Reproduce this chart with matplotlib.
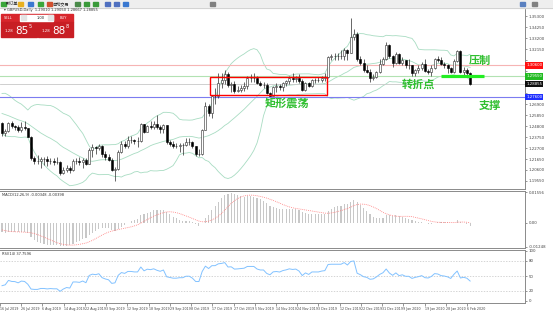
import numpy as np
import pandas as pd
import matplotlib
matplotlib.use("Agg")
import matplotlib.pyplot as plt
from matplotlib.patches import Rectangle

CJK = ['Noto Sans CJK SC', 'DejaVu Sans']

# GBPUSD daily bars, 16 Jul 2019 .. 6 Feb 2020
warmup_closes = [1.2710, 1.2660, 1.2620, 1.2610, 1.2620, 1.2630, 1.2690, 1.2700, 1.2710, 1.2740,
                 1.2660, 1.2710, 1.2690, 1.2680, 1.2590, 1.2540, 1.2560, 1.2650, 1.2720, 1.2740,
                 1.2740, 1.2700, 1.2660, 1.2690, 1.2700, 1.2620, 1.2620, 1.2590, 1.2580, 1.2520,
                 1.2510, 1.2450, 1.2510, 1.2520, 1.2570, 1.2510]

closes = [
    # Jul
    1.2415, 1.2430, 1.2510, 1.2480, 1.2475, 1.2440, 1.2470, 1.2460, 1.2380, 1.2170, 1.2150, 1.2150,
    # Aug
    1.2165, 1.2165, 1.2145, 1.2150, 1.2140, 1.2140, 1.2030, 1.2060, 1.2080, 1.2060, 1.2150,
    1.2150, 1.2140, 1.2160, 1.2120, 1.2250, 1.2280, 1.2270, 1.2290, 1.2210, 1.2180, 1.2160,
    # Sep
    1.2060, 1.2070, 1.2230, 1.2310, 1.2290, 1.2350, 1.2350, 1.2340, 1.2340, 1.2500, 1.2420,
    1.2480, 1.2470, 1.2500, 1.2470, 1.2450, 1.2490, 1.2330, 1.2310, 1.2290, 1.2290,
    # Oct
    1.2300, 1.2300, 1.2330, 1.2330, 1.2290, 1.2210, 1.2210, 1.2440, 1.2670, 1.2610, 1.2770, 1.2770,
    1.2890, 1.2920, 1.2980, 1.2870, 1.2880, 1.2820, 1.2830, 1.2845, 1.2860, 1.2940, 1.2940,
    # Nov
    1.2940, 1.2890, 1.2870, 1.2870, 1.2800, 1.2770, 1.2850, 1.2860, 1.2850, 1.2890, 1.2910,
    1.2940, 1.2930, 1.2940, 1.2910, 1.2830, 1.2890, 1.2860, 1.2920, 1.2920, 1.2920,
    # Dec
    1.2940, 1.2950, 1.3140, 1.3150, 1.3150, 1.3150, 1.3150, 1.3210, 1.3180, 1.3330, 1.3360,
    1.3120, 1.3080, 1.3020, 1.3000, 1.2940, 1.2950, 1.3000, 1.3070, 1.3120, 1.3260,
    # Jan
    1.3150, 1.3080, 1.3170, 1.3080, 1.3110, 1.3060, 1.3060, 1.2990, 1.3020, 1.3040, 1.3070,
    1.3010, 1.3000, 1.3040, 1.3120, 1.3110, 1.3070, 1.3060, 1.3040, 1.3000, 1.3100, 1.3200,
    # Feb
    1.3000, 1.3020, 1.2990, 1.2886,
]

highs = [
    1.2515, 1.2450, 1.2522, 1.2530, 1.2490, 1.2490, 1.2520, 1.2530, 1.2465, 1.2385, 1.2190, 1.2200,
    1.2185, 1.2180, 1.2190, 1.2170, 1.2170, 1.2180, 1.2150, 1.2090, 1.2110, 1.2100, 1.2165,
    1.2170, 1.2180, 1.2175, 1.2175, 1.2275, 1.2310, 1.2290, 1.2305, 1.2300, 1.2240, 1.2210,
    1.2175, 1.2085, 1.2250, 1.2340, 1.2340, 1.2385, 1.2385, 1.2360, 1.2380, 1.2510, 1.2500,
    1.2490, 1.2525, 1.2530, 1.2582, 1.2490, 1.2500, 1.2490, 1.2345, 1.2340, 1.2320,
    1.2320, 1.2320, 1.2365, 1.2370, 1.2340, 1.2290, 1.2260, 1.2450, 1.2710, 1.2690, 1.2775, 1.2840,
    1.2990, 1.2990, 1.3013, 1.3000, 1.2905, 1.2910, 1.2860, 1.2875, 1.2905, 1.2955, 1.2975,
    1.2985, 1.2960, 1.2915, 1.2905, 1.2890, 1.2810, 1.2860, 1.2890, 1.2880, 1.2905, 1.2920,
    1.2960, 1.2990, 1.2955, 1.2975, 1.2930, 1.2900, 1.2905, 1.2935, 1.2940, 1.2945,
    1.2960, 1.2985, 1.3150, 1.3170, 1.3180, 1.3180, 1.3210, 1.3230, 1.3220, 1.3514, 1.3410,
    1.3380, 1.3150, 1.3120, 1.3060, 1.3030, 1.2980, 1.3010, 1.3120, 1.3140, 1.3285,
    1.3270, 1.3160, 1.3185, 1.3180, 1.3140, 1.3110, 1.3120, 1.3065, 1.3030, 1.3060, 1.3090,
    1.3120, 1.3030, 1.3060, 1.3130, 1.3150, 1.3140, 1.3090, 1.3070, 1.3050, 1.3120, 1.3210,
    1.3210, 1.3050, 1.3040, 1.3000,
]

lows = [
    1.2382, 1.2382, 1.2420, 1.2465, 1.2440, 1.2420, 1.2425, 1.2440, 1.2375, 1.2160, 1.2120, 1.2120,
    1.2080, 1.2110, 1.2100, 1.2120, 1.2110, 1.2120, 1.2015, 1.2020, 1.2040, 1.2035, 1.2050,
    1.2120, 1.2110, 1.2080, 1.2105, 1.2120, 1.2180, 1.2210, 1.2255, 1.2180, 1.2160, 1.2145,
    1.2050, 1.1959, 1.2060, 1.2220, 1.2270, 1.2270, 1.2320, 1.2310, 1.2280, 1.2330, 1.2410,
    1.2420, 1.2450, 1.2450, 1.2455, 1.2410, 1.2410, 1.2310, 1.2290, 1.2270, 1.2270,
    1.2230, 1.2205, 1.2290, 1.2300, 1.2270, 1.2195, 1.2190, 1.2200, 1.2440, 1.2580, 1.2560, 1.2690,
    1.2750, 1.2840, 1.2880, 1.2850, 1.2810, 1.2800, 1.2810, 1.2805, 1.2820, 1.2835, 1.2905,
    1.2900, 1.2880, 1.2860, 1.2840, 1.2790, 1.2769, 1.2770, 1.2810, 1.2825, 1.2820, 1.2860,
    1.2880, 1.2900, 1.2905, 1.2890, 1.2820, 1.2820, 1.2850, 1.2855, 1.2895, 1.2900,
    1.2900, 1.2910, 1.2940, 1.3110, 1.3110, 1.3110, 1.3120, 1.3110, 1.3110, 1.3175, 1.3300,
    1.3105, 1.3060, 1.3000, 1.2990, 1.2905, 1.2920, 1.2940, 1.2990, 1.3060, 1.3110,
    1.3130, 1.3045, 1.3070, 1.3070, 1.3060, 1.3040, 1.3030, 1.2960, 1.2960, 1.2990, 1.3020,
    1.3000, 1.2980, 1.2960, 1.3030, 1.3090, 1.3060, 1.3040, 1.2990, 1.2990, 1.2990, 1.3090,
    1.2990, 1.2960, 1.2960, 1.2870,
]

date_labels = ["16 Jul 2019", "26 Jul 2019", "6 Aug 2019", "14 Aug 2019", "22 Aug 2019",
               "3 Sep 2019", "12 Sep 2019", "18 Sep 2019", "29 Sep 2019", "8 Oct 2019",
               "17 Oct 2019", "27 Oct 2019", "5 Nov 2019", "14 Nov 2019", "24 Nov 2019",
               "3 Dec 2019", "12 Dec 2019", "22 Dec 2019", "31 Dec 2019", "9 Jan 2020",
               "19 Jan 2020", "28 Jan 2020", "6 Feb 2020"]

resistance = 1.3060   # 压制
pivot = 1.2955        # 转折点
support = 1.2760      # 支撑
bid = 1.28855
ask = 1.28888
rsi_levels = [80, 50, 20]

assert len(closes) == len(highs) == len(lows)

# ---- indicators (Bollinger 20/2, MACD 12/26/9, RSI 14) ----
allc = pd.Series(warmup_closes + closes)
mid = allc.rolling(20).mean()
sd = allc.rolling(20).std(ddof=0)
upper = mid + 2 * sd
lower = mid - 2 * sd
macd = allc.ewm(span=12, adjust=False).mean() - allc.ewm(span=26, adjust=False).mean()
signal = macd.rolling(9).mean()
delta = allc.diff()
gain = delta.clip(lower=0).ewm(alpha=1 / 14, adjust=False).mean()
loss = (-delta.clip(upper=0)).ewm(alpha=1 / 14, adjust=False).mean()
rsi = 100 - 100 / (1 + gain / loss)

k = len(warmup_closes)
n = len(closes)
x = np.arange(n)
c = np.array(closes)
h = np.array(highs)
l = np.array(lows)
o = np.r_[warmup_closes[-1], c[:-1]]
upper, mid, lower = upper.values[k:], mid.values[k:], lower.values[k:]
macd, signal, rsi = macd.values[k:], signal.values[k:], rsi.values[k:]

# ---- layout in screenshot pixels ----
W, H = 553, 315
fig = plt.figure(figsize=(W / 100, H / 100), dpi=100)
fig.patch.set_facecolor('white')


def box(top, bottom, right=525):
    return [0, 1 - bottom / H, right / W, (bottom - top) / H]


ax = fig.add_axes(box(8, 189))
am = fig.add_axes(box(191, 248), sharex=ax)
ar = fig.add_axes(box(250, 303), sharex=ax)

for a in (ax, am, ar):
    a.spines['left'].set_visible(False)
    for s in ('right', 'top', 'bottom'):
        a.spines[s].set_color('#8a8a8a')
        a.spines[s].set_linewidth(0.7)
    a.yaxis.tick_right()
    a.tick_params(axis='y', labelsize=2.8, length=1.5, width=0.4, pad=1, colors='#444444')
    a.tick_params(axis='x', labelsize=2.3, length=2, width=0.4, pad=1, colors='#444444')
ax.tick_params(axis='x', bottom=False, labelbottom=False)
am.tick_params(axis='x', bottom=False, labelbottom=False)
ax.set_xlim(-0.62, 162)

# ---- price panel ----
boxes = ((resistance, '#ff1010'), (pivot, '#22bb22'), (bid, '#101010'), (support, '#2030ff'))
ax.set_ylim(1.1878, 1.3610)
ticks = np.arange(1.1955, 1.3610, 0.0105)
ax.set_yticks(ticks)
ax.set_yticklabels([f"{t:.5f}" if min(abs(t - v) for v, _ in boxes) > 0.005 else ""
                    for t in ticks])

ax.plot(x, upper, color='#a8dcc2', lw=0.6)
ax.plot(x, mid, color='#a8dcc2', lw=0.6)
ax.plot(x, lower, color='#a8dcc2', lw=0.6)

ax.axhline(resistance, color='#f6b4b4', lw=0.8)
ax.axhline(pivot, color='#b2e2b2', lw=0.8)
ax.axhline(bid, color='#c8c8c8', lw=0.6)
ax.axhline(support, color='#7c7cf0', lw=0.8)

up = c >= o
ax.vlines(x, l, h, color='#2a2a2a', lw=0.5, zorder=3)
ax.bar(x[up], (c - o)[up], bottom=o[up], width=0.62, color='white',
       edgecolor='#2a2a2a', lw=0.4, zorder=4)
ax.bar(x[~up], (o - c)[~up], bottom=c[~up], width=0.62, color='black',
       edgecolor='black', lw=0.4, zorder=4)

for val, col in boxes:
    ax.text(1.002, val, f"{val:.5f}", transform=ax.get_yaxis_transform(), fontsize=2.8,
            color='white', va='center', ha='left', clip_on=False, zorder=6,
            bbox=dict(boxstyle='square,pad=0.3', fc=col, ec='none'))

# annotations
ax.add_patch(Rectangle((64.4, 1.2777), 36.3, 0.0172, fill=False, ec='#ff0000', lw=1.0, zorder=5))
ax.plot([136, 149.3], [pivot, pivot], color='#22ee22', lw=2.3, solid_capstyle='butt', zorder=5)
txt = dict(color='#2fbf2f', fontsize=8, fontweight='bold', family=CJK, ha='center', va='center', zorder=6)
ax.text(88.3, 1.2701, "矩形震荡", **txt)
ax.text(128.9, 1.2882, "转折点", **txt)
ax.text(148.1, 1.3112, "压制", **txt)
ax.text(151.2, 1.2681, "支撑", **txt)

# ---- MACD panel ----
am.bar(x, macd, width=0.35, color='#c8c8c8')
am.plot(x, signal, color='#ff7a7a', lw=0.6, ls=(0, (1, 1.3)))
lo = min(np.nanmin(macd), np.nanmin(signal))
hi = max(np.nanmax(macd), np.nanmax(signal))
am.set_ylim(lo * 1.08, hi * 1.08)
am.set_yticks([hi * 1.03, 0, lo * 1.03])
am.set_yticklabels([f"{hi:.5f}", "0.00", f"{lo:.5f}"])
am.text(0.004, 0.97, "MACD(12,26,9) -0.00348 -0.00398", transform=am.transAxes,
        fontsize=2.6, va='top', color='#333333')

# ---- RSI panel ----
for lv in rsi_levels:
    ar.axhline(lv, color='#c4c4c4', lw=0.5, ls=(0, (2, 2)))
ar.plot(x, rsi, color='#82c2ff', lw=0.7)
ar.set_ylim(-4, 102)
ar.set_yticks([100] + rsi_levels + [0])
ar.text(0.004, 0.97, "RSI(14) 37.7596", transform=ar.transAxes,
        fontsize=2.6, va='top', color='#333333')
tick_pos = -0.62 + np.arange(len(date_labels)) * 6.577
ar.set_xticks(tick_pos)
ar.set_xticklabels(date_labels, ha='left')

# ---- terminal chrome: toolbar, info line, one-click trading box ----
ui = fig.add_axes([0, 0, 1, 1], zorder=10)
ui.set_xlim(0, W)
ui.set_ylim(H, 0)
ui.axis('off')
ui.patch.set_alpha(0)

ui.add_patch(Rectangle((0, 0), W, 7.5, color='#eeeeee'))
ui.plot([0, W], [7.5, 7.5], color='#c8c8c8', lw=0.5)
icons = [(1, '#3aa63a'), (18, '#e8b020'), (28, '#3a78d0'), (38, '#3aa63a'), (47, '#d05030'),
         (75, '#4a8a4a'), (84, '#3a9a3a'), (93, '#3a9a3a'), (105, '#5070c0'), (114, '#5070c0'),
         (123, '#3a78d0'), (210, '#808080'), (520, '#5a80c0'), (532, '#808080')]
for ix, col in icons:
    ui.add_patch(Rectangle((ix, 1.5), 4.5, 4.5, color=col))
ui.text(6, 4, "新订单", fontsize=3, family=CJK, va='center', color='#222222')
ui.text(52, 4, "自动交易", fontsize=3, family=CJK, va='center', color='#222222')

ui.text(4, 10.3, "▾ GBPUSD,Daily  1.29010 1.29050 1.28667 1.28855", fontsize=2.6,
        va='center', color='#333333')

# one-click trading
ui.add_patch(Rectangle((1, 14), 72, 8, color='#d8262c'))
ui.add_patch(Rectangle((1, 22), 35.5, 14.5, color='#c81e24'))
ui.add_patch(Rectangle((37.5, 22), 35.5, 14.5, color='#c81e24'))
ui.add_patch(Rectangle((20, 14.8), 33, 6, color='white'))
ui.add_patch(Rectangle((20.5, 15.3), 5, 5, color='#e4e4e4'))
ui.add_patch(Rectangle((47.5, 15.3), 5, 5, color='#e4e4e4'))
ui.text(4, 18, "SELL", fontsize=2.6, color='white', va='center')
ui.text(60, 18, "BUY", fontsize=2.6, color='white', va='center')
ui.text(45, 17.8, "1.00", fontsize=2.6, color='#222222', va='center', ha='right')
sell_txt = f"{bid:.5f}"
buy_txt = f"{ask:.5f}"
for x0, q in ((5, sell_txt), (42, buy_txt)):
    ui.text(x0, 32.5, q[:4], fontsize=2.8, color='white', va='baseline')
    ui.text(x0 + 10, 33.5, q[4:6], fontsize=7.5, color='white', va='baseline')
    ui.text(x0 + 24, 26.5, q[6], fontsize=3.5, color='white', va='center')

fig.savefig("out.png", dpi=100, facecolor='white')
